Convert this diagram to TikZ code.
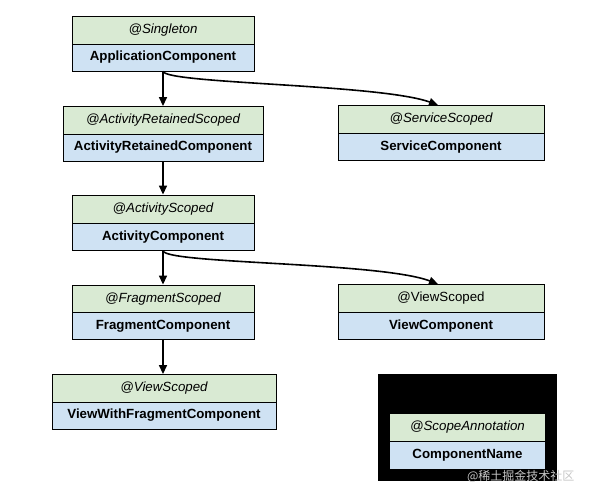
\documentclass[tikz,border=0pt]{standalone}
\usepackage{fontspec}
\setmainfont{Liberation Sans}
\newfontfamily\cjkfont{Noto Sans CJK SC}
\usetikzlibrary{arrows.meta}
\definecolor{scopegreen}{HTML}{D9EAD3}
\definecolor{compblue}{HTML}{CFE2F3}
\tikzset{
  anno/.style={draw=black, line width=0.9pt, fill=scopegreen, minimum height=28pt, inner sep=0pt,
     font=\fontsize{13.3}{15}\selectfont\itshape},
  annoup/.style={anno, font=\fontsize{13.3}{15}\selectfont},
  comp/.style={draw=black, line width=0.9pt, fill=compblue, minimum height=27pt, inner sep=0pt,
     font=\fontsize{13.3}{15}\selectfont\bfseries},
  conn/.style={line width=1.6pt, -{Triangle[length=9pt,width=8pt]}},
}
\begin{document}
\begin{tikzpicture}[x=1pt,y=-1pt]
\useasboundingbox[fill=white] (0,0) rectangle (590,499);
% Singleton
\node[anno, minimum width=182pt] (sA) at (163,30) {@Singleton};
\node[comp, minimum width=182pt] (sC) at (163,57.5) {ApplicationComponent};
% ActivityRetained
\node[anno, minimum width=200pt] (arA) at (163,120.5) {@ActivityRetainedScoped};
\node[comp, minimum width=200pt] (arC) at (163,147.5) {ActivityRetainedComponent};
% Service
\node[anno, minimum width=206pt] (svA) at (441,119.5) {@ServiceScoped};
\node[comp, minimum width=206pt] (svC) at (441,147) {ServiceComponent};
% Activity
\node[anno, minimum width=182pt] (acA) at (163,209) {@ActivityScoped};
\node[comp, minimum width=182pt] (acC) at (163,237) {ActivityComponent};
% Fragment
\node[anno, minimum width=182pt] (frA) at (163,299) {@FragmentScoped};
\node[comp, minimum width=182pt] (frC) at (163,326) {FragmentComponent};
% View (right)
\node[annoup, minimum width=206pt] (vwA) at (441,298.5) {@ViewScoped};
\node[comp, minimum width=206pt] (vwC) at (441,326) {ViewComponent};
% ViewWithFragment
\node[anno, minimum width=224pt] (vfA) at (164,388.5) {@ViewScoped};
\node[comp, minimum width=224pt] (vfC) at (164,415.5) {ViewWithFragmentComponent};
% Legend
\node[fill=black, minimum width=179pt, minimum height=107pt, inner sep=0pt] (leg) at (467.5,427.5) {};
\draw[white, line width=0.8pt, dash pattern=on 3pt off 2pt] (leg.north west) -- (leg.north east);
\draw[white, line width=0.8pt, dash pattern=on 3pt off 2pt] (leg.south west) -- (leg.south east);
\node[anno, draw=none, minimum width=155pt, minimum height=27pt] (lgA) at (467.5,427.5) {@ScopeAnnotation};
\node[comp, draw=none, minimum width=155pt, minimum height=28pt] (lgC) at (467.5,455) {ComponentName};
\draw[black, line width=0.9pt] (lgA.south west) -- (lgA.south east);
% watermark
\node[text=gray!45, font=\cjkfont\fontsize{12}{14}\selectfont, anchor=east] (wm) at (578,476) {@稀土掘金技术社区};
% connectors
\draw[conn] (sC.south) -- (arA.north);
\draw[conn] (sC.south) .. controls (168,84) and (380,84) .. ([xshift=-3pt]svA.north);
\draw[conn] (arC.south) -- (acA.north);
\draw[conn] (acC.south) -- (frA.north);
\draw[conn] (acC.south) .. controls (168,264) and (380,262) .. ([xshift=-3pt]vwA.north);
\draw[conn] (frC.south) -- (frC.south |- vfA.north);
\end{tikzpicture}
\end{document}
